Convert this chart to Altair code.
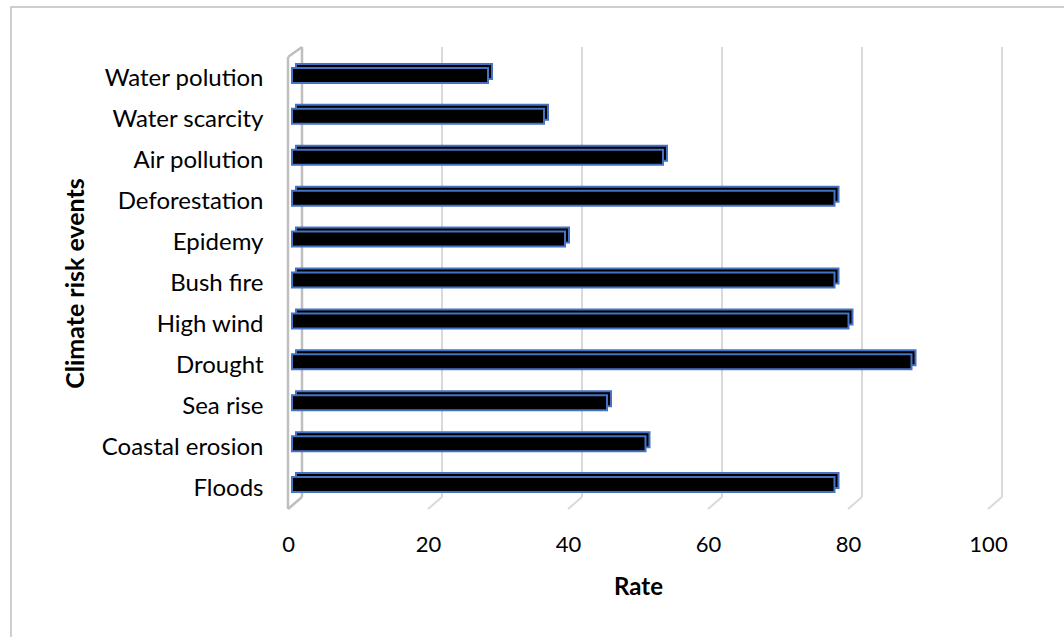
import altair as alt
import pandas as pd

categories = ["Water polution", "Water scarcity", "Air pollution", "Deforestation",
              "Epidemy", "Bush fire", "High wind", "Drought", "Sea rise",
              "Coastal erosion", "Floods"]
rates = [28, 36, 53, 77.5, 39, 77.5, 79.5, 88.5, 45, 50.5, 77.5]
tick_values = [0, 20, 40, 60, 80, 100]

df = pd.DataFrame({"event": categories, "rate": rates})
grid_df = pd.DataFrame({"v": tick_values[1:]})
wall_df = pd.DataFrame({"v": [0]})

W, H = 700, 450
FONT = "Lato"
GRID = "#d9d9d9"
WALL = "#bfbfbf"
BLUE = "#4472C4"

xscale = alt.Scale(domain=[0, 100], nice=False)
yscale = alt.Scale(domain=categories, paddingInner=0, paddingOuter=0)

xaxis = alt.Axis(values=tick_values, grid=False, domain=False, ticks=False,
                 labelFlush=False, labelFontSize=22, labelPadding=29,
                 titleFontSize=24, titlePadding=20)
yaxis = alt.Axis(domain=False, ticks=False, labelPadding=25, labelFontSize=24,
                 labelOffset=4,
                 titleFontSize=25, titleX=-205, titleY=228, titleBaseline="alphabetic")


def xenc(field):
    return alt.X(field, type="quantitative", scale=xscale, axis=xaxis, title="Rate")


def yenc():
    return alt.Y("event", type="nominal", scale=yscale, sort=categories,
                 axis=yaxis, title="Climate risk events")


# outer frame (decoration)
frame = alt.Chart(wall_df).mark_rect(fill="transparent", stroke="#bfbfbf", strokeWidth=1.5).encode(
    x=alt.value(-277), x2=alt.value(800), y=alt.value(-48), y2=alt.value(600)
)

# 3D-looking back gridlines
grid_back = alt.Chart(grid_df).mark_rule(color=GRID, strokeWidth=2, xOffset=14).encode(
    x=xenc("v"), y=alt.value(-8), y2=alt.value(442)
)
grid_floor = alt.Chart(grid_df).mark_rule(color=GRID, strokeWidth=2, x2Offset=14).encode(
    x=xenc("v"), x2=alt.X2("v"), y=alt.value(454), y2=alt.value(442)
)

# left wall at 0
wall_front = alt.Chart(wall_df).mark_rule(color=WALL, strokeWidth=2.5).encode(
    x=xenc("v"), y=alt.value(2), y2=alt.value(454)
)
wall_back = alt.Chart(wall_df).mark_rule(color=WALL, strokeWidth=2.5, xOffset=14).encode(
    x=xenc("v"), y=alt.value(-8), y2=alt.value(442)
)
wall_top = alt.Chart(wall_df).mark_rule(color=WALL, strokeWidth=2.5, x2Offset=14).encode(
    x=xenc("v"), x2=alt.X2("v"), y=alt.value(2), y2=alt.value(-8)
)
wall_bottom = alt.Chart(wall_df).mark_rule(color=WALL, strokeWidth=2.5, x2Offset=14).encode(
    x=xenc("v"), x2=alt.X2("v"), y=alt.value(454), y2=alt.value(442)
)

# bars: back copy gives the depth faces, front copy the face
bars_back = alt.Chart(df).mark_bar(
    size=15, xOffset=8, x2Offset=8, yOffset=-4, fill="#000000", stroke=BLUE, strokeWidth=2
).encode(x=xenc("rate"), y=yenc())

bars_front = alt.Chart(df).mark_bar(
    size=15, xOffset=4, x2Offset=4, fill="#000000", stroke=BLUE, strokeWidth=2
).encode(x=xenc("rate"), y=yenc())

chart = alt.layer(
    frame, grid_back, grid_floor, wall_back, wall_front, wall_top, wall_bottom,
    bars_back, bars_front
).properties(
    width=W, height=H,
    autosize=alt.AutoSizeParams(type="none"),
    padding={"left": 288, "top": 55, "right": 76, "bottom": 132},
    background="white",
).configure_view(strokeWidth=0).configure_axis(
    labelFont=FONT, titleFont=FONT,
    labelColor="#000000", titleColor="#000000", titleFontWeight="bold",
)

chart.save("out.html", embed_options={"renderer": "svg", "actions": False})
